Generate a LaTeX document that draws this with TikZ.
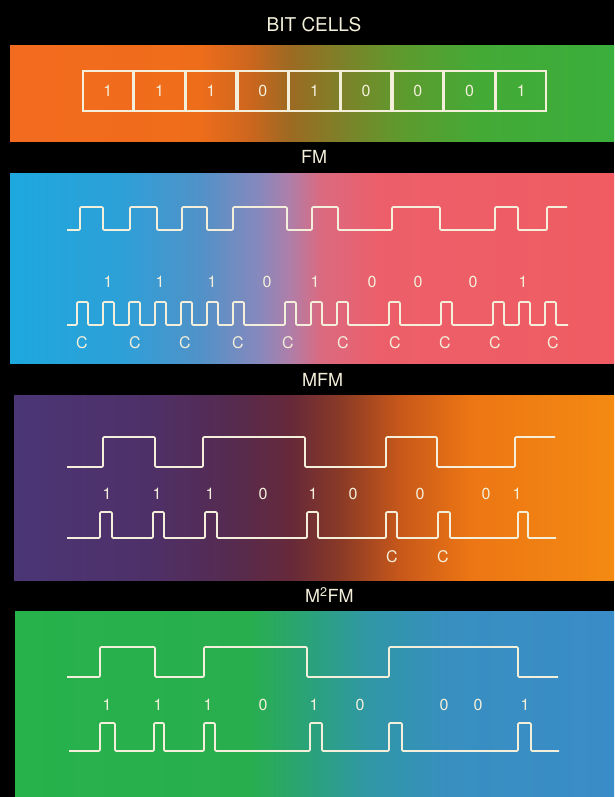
\documentclass[tikz,border=0pt]{standalone}
\usepackage{fontspec}
\setmainfont{TeX Gyre Heros}

% ink for lines and lettering
\definecolor{ink}{HTML}{F3EFDA}

% band colours, left to right
\definecolor{bA}{HTML}{F36B1F}\definecolor{bB}{HTML}{EE6D1A}\definecolor{bC}{HTML}{CC661E}
\definecolor{bD}{HTML}{9C6A22}\definecolor{bE}{HTML}{847C28}\definecolor{bF}{HTML}{5E9A2E}
\definecolor{bG}{HTML}{44AA36}\definecolor{bH}{HTML}{3AAE3C}

\definecolor{fA}{HTML}{1DA8DE}\definecolor{fB}{HTML}{2DA0D8}\definecolor{fC}{HTML}{5092C8}
\definecolor{fD}{HTML}{8888BC}\definecolor{fE}{HTML}{B07EA8}\definecolor{fF}{HTML}{DA6A80}
\definecolor{fG}{HTML}{EC5F6A}\definecolor{fH}{HTML}{F05C62}

\definecolor{mA}{HTML}{4B3676}\definecolor{mB}{HTML}{4E3068}\definecolor{mC}{HTML}{552B50}
\definecolor{mD}{HTML}{66293A}\definecolor{mE}{HTML}{8A3A26}\definecolor{mF}{HTML}{C8581A}
\definecolor{mG}{HTML}{EC7614}\definecolor{mH}{HTML}{F48A12}

\definecolor{qA}{HTML}{27B24B}\definecolor{qB}{HTML}{29AE4E}\definecolor{qC}{HTML}{2AA27A}
\definecolor{qD}{HTML}{3097A6}\definecolor{qE}{HTML}{388FC0}\definecolor{qF}{HTML}{3A8CC8}

% path bounding box maps onto 25bp..75bp of each shading
\pgfdeclarehorizontalshading{bitband}{100bp}{color(0bp)=(bA); color(25bp)=(bA);
  color(40.7bp)=(bB); color(44.9bp)=(bC); color(48.2bp)=(bD); color(51.5bp)=(bE);
  color(57.3bp)=(bF); color(63.9bp)=(bG); color(75bp)=(bH); color(100bp)=(bH)}
\pgfdeclarehorizontalshading{fmband}{100bp}{color(0bp)=(fA); color(25bp)=(fA);
  color(34.1bp)=(fB); color(40.7bp)=(fC); color(45.7bp)=(fD); color(48.2bp)=(fE);
  color(50.7bp)=(fF); color(55.6bp)=(fG); color(75bp)=(fH); color(100bp)=(fH)}
\pgfdeclarehorizontalshading{mfmband}{100bp}{color(0bp)=(mA); color(25bp)=(mA);
  color(36.3bp)=(mB); color(43bp)=(mC); color(48bp)=(mD); color(52.2bp)=(mE);
  color(57.2bp)=(mF); color(63bp)=(mG); color(75bp)=(mH); color(100bp)=(mH)}
\pgfdeclarehorizontalshading{mmfmband}{100bp}{color(0bp)=(qA); color(25bp)=(qA);
  color(44.6bp)=(qB); color(49.6bp)=(qC); color(54.6bp)=(qD); color(61.3bp)=(qE);
  color(75bp)=(qF); color(100bp)=(qF)}

\begin{document}
\begin{tikzpicture}[x=1pt,y=-1pt,
  wave/.style={draw=ink, line width=1.8pt, rounded corners=1.2pt, line join=round},
  lbl/.style={text=ink, font=\fontsize{16}{16}\selectfont, inner sep=0pt},
  ttl/.style={text=ink, font=\fontsize{18}{18}\selectfont, inner sep=0pt},
  cellbox/.style={draw=ink, line width=1.8pt, minimum width=50pt, minimum height=40pt,
    inner sep=0pt, text=ink, font=\fontsize{16}{16}\selectfont}]

\useasboundingbox (0,0) rectangle (614,797);
\fill[black] (0,0) rectangle (614,797);

% colour bands
\fill[shading=bitband]  (10,46)  rectangle (614,141);
\fill[shading=fmband]   (10,173) rectangle (614,363);
\fill[shading=mfmband]  (14,395) rectangle (614,580);
\fill[shading=mmfmband] (15,611) rectangle (614,797);

% ---------- bit cells ----------
\node[ttl, font=\fontsize{19}{19}\selectfont] (tBit) at (314,25) {BIT CELLS};
\foreach \v [count=\k] in {1,1,1,0,1,0,0,0,1}
  \node[cellbox] (cell\k) at ({82+51.67*(\k-0.5)},91) {\v};

% ---------- FM ----------
\node[ttl, anchor=west] (tFM) at (301,157) {FM};
\draw[wave] (67,230) -| (80,207) -| (103,230) -| (130,207) -| (157,230) -| (182,207)
  -| (207,230) -| (233,207) -| (287,230) -| (312,207) -| (338,230) -| (392,207)
  -| (440,230) -| (495,207) -| (518,230) -| (547,207) -- (567,207);
\foreach \v/\x [count=\k] in {1/108,1/160,1/212,0/267,1/315,0/372,0/418,0/473,1/523}
  \node[lbl] (fmBit\k) at (\x,282) {\v};
\draw[wave] (67,325) -| (77,302) -| (88,325) -| (103,302) -| (114,325)
  -| (129,302) -| (140,325) -| (155,302) -| (166,325) -| (181,302) -| (192,325)
  -| (207,302) -| (218,325) -| (233,302) -| (244,325) -| (285,302) -| (296,325)
  -| (311,302) -| (322,325) -| (337,302) -| (348,325) -| (389,302) -| (400,325)
  -| (441,302) -| (452,325) -| (493,302) -| (504,325) -| (519,302) -| (530,325)
  -| (545,302) -| (556,325) -- (568,325);
\foreach \x [count=\k] in {82,135,185,238,288,343,395,445,495,553}
  \node[lbl] (fmC\k) at (\x,343) {C};

% ---------- MFM ----------
\node[ttl, anchor=west] (tMFM) at (302,380) {MFM};
\draw[wave] (67,467) -| (103,437) -| (155,467) -| (203,437) -| (305,467)
  -| (386,437) -| (437,467) -| (515,437) -- (555,437);
\foreach \v/\x [count=\k] in {1/107,1/157,1/210,0/263,1/313,0/353,0/420,0/486,1/517}
  \node[lbl] (mfmBit\k) at (\x,494) {\v};
\draw[wave] (67,538) -| (100,512) -| (112,538) -| (153,512) -| (164,538)
  -| (205,512) -| (217,538) -| (307,512) -| (318,538) -| (386,512) -| (397,538)
  -| (438,512) -| (450,538) -| (518,512) -| (528,538) -- (556,538);
\node[lbl] (mfmC1) at (392,557) {C};
\node[lbl] (mfmC2) at (443,557) {C};

% ---------- M2FM ----------
\node[ttl, anchor=west] (tMMFM) at (305,595) {M\textsuperscript{2}FM};
\draw[wave] (67,677) -| (100,647) -| (155,677) -| (204,647) -| (307,677)
  -| (389,647) -| (518,677) -- (558,677);
\foreach \v/\x [count=\k] in {1/107,1/158,1/208,0/263,1/314,0/360,0/444,0/478,1/525}
  \node[lbl] (mmfmBit\k) at (\x,705) {\v};
\draw[wave] (69,751) -| (100,723) -| (115,751) -| (154,723) -| (164,751)
  -| (204,723) -| (215,751) -| (310,723) -| (322,751) -| (389,723) -| (402,751)
  -| (518,723) -| (531,751) -- (559,751);

\end{tikzpicture}
\end{document}
